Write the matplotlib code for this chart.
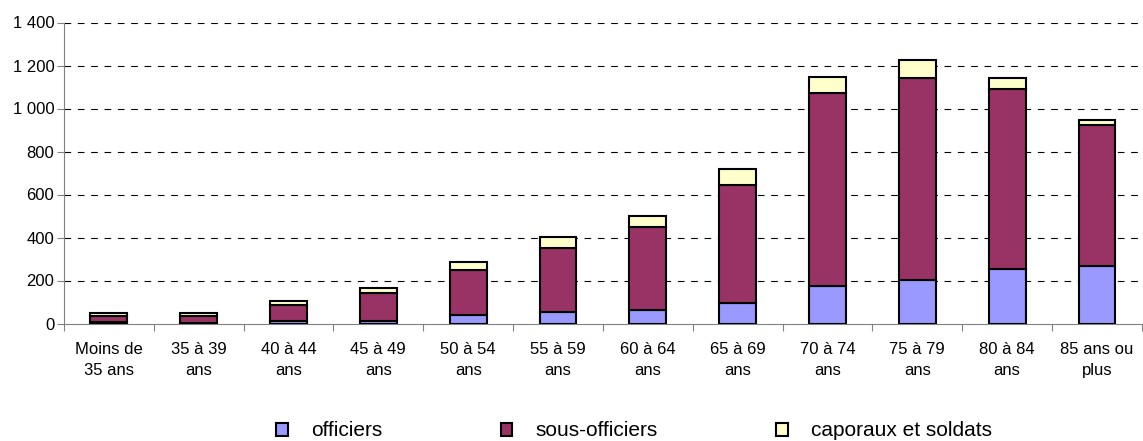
import matplotlib.pyplot as plt
from matplotlib.patches import Patch
from matplotlib.ticker import FuncFormatter

categories = ['Moins de\n35 ans', '35 à 39\nans', '40 à 44\nans', '45 à 49\nans',
              '50 à 54\nans', '55 à 59\nans', '60 à 64\nans', '65 à 69\nans',
              '70 à 74\nans', '75 à 79\nans', '80 à 84\nans', '85 ans ou\nplus']
officiers = [5, 4, 11, 11, 39, 54, 63, 94, 176, 204, 254, 266]
sous_officiers = [30, 29, 73, 131, 210, 297, 386, 550, 898, 940, 835, 658]
caporaux = [16, 16, 21, 25, 39, 50, 52, 76, 74, 82, 55, 21]

plt.rcParams['font.family'] = ['Liberation Sans', 'DejaVu Sans']
plt.rcParams['font.size'] = 12

fig = plt.figure(figsize=(11.43, 4.41), dpi=100)
ax = fig.add_axes([64 / 1143, 1 - 323.5 / 441, 1 - 64 / 1143 - 0.001, 301 / 441])

x = range(len(categories))
w = 0.41
bottom2 = [a + b for a, b in zip(officiers, sous_officiers)]
ax.bar(x, officiers, w, color='#9999FF', edgecolor='black', linewidth=1.5, zorder=3)
ax.bar(x, sous_officiers, w, bottom=officiers, color='#993366',
       edgecolor='black', linewidth=1.5, zorder=3)
ax.bar(x, caporaux, w, bottom=bottom2, color='#FFFFCC',
       edgecolor='black', linewidth=1.5, zorder=3)

ax.set_xlim(-0.5, len(categories) - 0.5)
ax.set_ylim(0, 1400)
ax.set_yticks(range(0, 1401, 200))
ax.yaxis.set_major_formatter(FuncFormatter(lambda v, p: f'{int(v):,}'.replace(',', ' ')))

# ticks entre les catégories, libellés au centre
ax.set_xticks([i + 0.5 for i in range(-1, len(categories))])
ax.set_xticklabels([])
ax.set_xticks(list(x), minor=True)
ax.set_xticklabels(categories, minor=True, fontsize=12, linespacing=1.5)
ax.tick_params(axis='x', which='minor', length=0, pad=13)
ax.tick_params(axis='x', which='major', length=5, color='#808080')
ax.tick_params(axis='y', length=5, color='#808080', labelsize=12, pad=2)

for v in range(200, 1401, 200):
    ax.axhline(v, color='black', linestyle=(0, (6, 6)), linewidth=0.8, zorder=1)

for s in ['top', 'right']:
    ax.spines[s].set_visible(False)
ax.spines['left'].set_color('#808080')
ax.spines['bottom'].set_color('#808080')

handles = [Patch(facecolor='#9999FF', edgecolor='black', linewidth=1.5),
           Patch(facecolor='#993366', edgecolor='black', linewidth=1.5),
           Patch(facecolor='#FFFFCC', edgecolor='black', linewidth=1.5)]
fig.legend(handles, ['officiers', 'sous-officiers', 'caporaux et soldats'],
           loc='center', bbox_to_anchor=(634 / 1143, 1 - 431 / 441), ncol=3,
           frameon=False, fontsize=15, handlelength=0.55, handleheight=0.6,
           handletextpad=1.1, columnspacing=5.7, borderpad=0)

fig.savefig('out.png', dpi=100)
